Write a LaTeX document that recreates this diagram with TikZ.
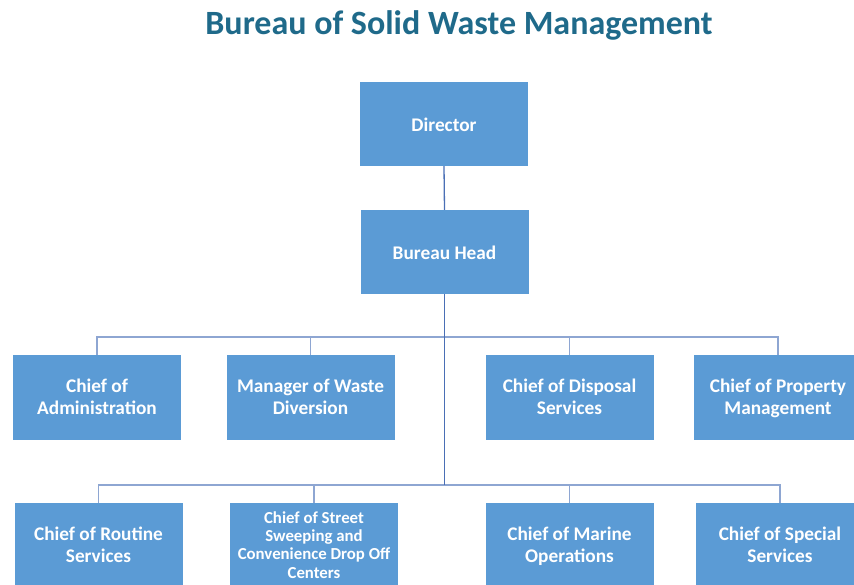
\documentclass[tikz,border=0pt]{standalone}
\usepackage{fontspec}
\setmainfont{Carlito}
\definecolor{boxblue}{HTML}{5B9BD5}
\definecolor{titleblue}{HTML}{1F6A8A}
\definecolor{trunk}{HTML}{4A6FB5}
\definecolor{branch}{HTML}{8EA6D2}
\newcommand\twoline[2]{\rule{0pt}{16.2pt}#1\\#2\rule[-5pt]{0pt}{5pt}}
\begin{document}
\begin{tikzpicture}[x=1pt,y=-1pt,
  orgbox/.style={fill=boxblue,draw=none,minimum width=168pt,minimum height=85pt,inner sep=2pt,
    text=white,font=\fontsize{19.3}{22}\selectfont\bfseries,align=center},
  oneline/.style={orgbox,minimum height=84pt,
    execute at begin node=\rule{0pt}{21.4pt}, execute at end node=\strut},
  smallbox/.style={orgbox,font=\fontsize{16.8}{18.3}\selectfont\bfseries},
  trunkline/.style={draw=trunk,line width=1.3pt},
  branchline/.style={draw=branch,line width=1.3pt}]
\useasboundingbox (0,0) rectangle (854,585);
\clip (0,0) rectangle (854,585);
\node (title) [text=titleblue,font=\fontsize{34}{38}\selectfont\bfseries] at (459,25) {Bureau of Solid Waste Management};
\node (dir) [oneline] at (444,124) {Director};
\node (bh) [oneline] at (444.5,252) {Bureau Head};
\node (admin) [orgbox] at (97,397.5) {\twoline{Chief of}{Administration}};
\node (waste) [orgbox] at (310.5,397.5) {\twoline{Manager of Waste}{Diversion}};
\node (disp) [orgbox] at (569.5,397.5) {\twoline{Chief of Disposal}{Services}};
\node (prop) [orgbox] at (778,397.5) {\twoline{Chief of Property}{Management}};
\node (rout) [orgbox] at (98.5,545.5) {\twoline{Chief of Routine}{Services}};
\node (street) [smallbox] at (314,545.5) {\rule{0pt}{15.5pt}Chief of Street\\Sweeping and\\Convenience Drop Off\\Centers\rule[-5pt]{0pt}{5pt}};
\node (marine) [orgbox] at (569.5,545.5) {\twoline{Chief of Marine}{Operations}};
\node (spec) [orgbox] at (780,545.5) {\twoline{Chief of Special}{Services}};
\coordinate (b1) at (444.5,337);
\coordinate (b2) at (444.5,485);
\draw[branchline] (b1) -| (admin.north);
\draw[branchline] (b1) -| (waste.north);
\draw[branchline] (b1) -| (disp.north);
\draw[branchline] (b1) -| (prop.north);
\draw[branchline] (b2) -| (rout.north);
\draw[branchline] (b2) -| (street.north);
\draw[branchline] (b2) -| (marine.north);
\draw[branchline] (b2) -| (spec.north);
\draw[trunkline] (dir.south) -- (bh.north);
\draw[trunkline] (bh.south) -- (b2);
\end{tikzpicture}
\end{document}
